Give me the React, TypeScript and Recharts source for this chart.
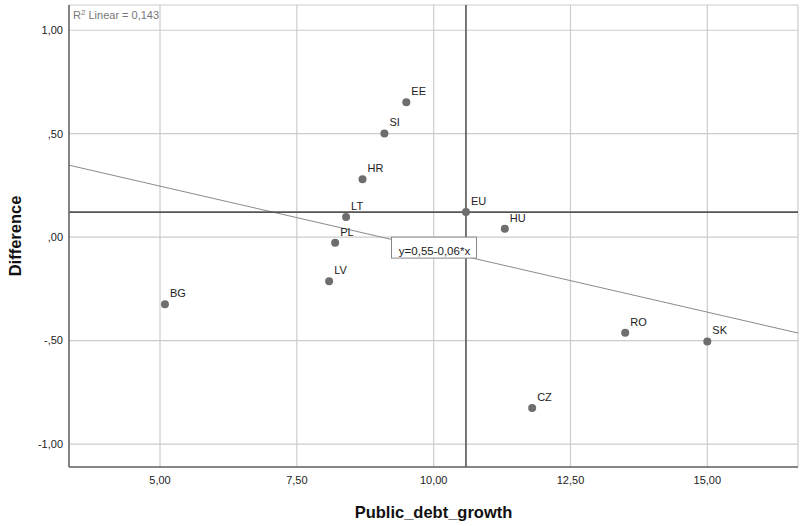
import React from "react";
import {
  ScatterChart,
  Scatter,
  XAxis,
  YAxis,
  CartesianGrid,
  ReferenceLine,
  ReferenceDot,
} from "recharts";

const countries = ["EE", "SI", "HR", "LT", "EU", "HU", "PL", "LV", "BG", "RO", "SK", "CZ"];
const debtGrowth = [9.5, 9.1, 8.7, 8.4, 10.59, 11.3, 8.2, 8.09, 5.09, 13.5, 15.0, 11.8];
const difference = [0.652, 0.501, 0.28, 0.097, 0.121, 0.04, -0.027, -0.213, -0.324, -0.462, -0.504, -0.826];

const xTicks = [5, 7.5, 10, 12.5, 15];
const yTicks = [-1, -0.5, 0, 0.5, 1];
const X_DOMAIN: [number, number] = [3.337, 16.657];
const Y_DOMAIN: [number, number] = [-1.111, 1.122];

// fit line y = a + b*x (label rounds it)
const FIT_A = 0.551;
const FIT_B = -0.0609;
const R2 = "0,143";

const data = countries.map((name, i) => ({ name, x: debtGrowth[i], y: difference[i] }));
const euIdx = countries.indexOf("EU");
const fit = (x: number) => FIT_A + FIT_B * x;
const fitMid = (X_DOMAIN[0] + X_DOMAIN[1]) / 2;

const FONT = "'Liberation Sans', Arial, sans-serif";

function fmt(v: number) {
  let s = v.toFixed(2).replace(".", ",");
  s = s.replace(/^(-?)0,/, "$1,");
  return s;
}

function PointShape(props: any) {
  const { cx, cy, payload } = props;
  return (
    <g>
      <circle cx={cx} cy={cy} r={4} fill="#6e6e6e" />
      <text x={cx + 5} y={cy - 7} fontSize={11} fill="#222" fontFamily={FONT}>
        {payload.name}
      </text>
    </g>
  );
}

function EquationBox(props: any) {
  const { cx, cy } = props;
  return (
    <g>
      <rect x={cx - 42} y={cy - 12} width={85} height={21} fill="#fff" stroke="#888" strokeWidth={1} />
      <text x={cx + 1} y={cy + 3} textAnchor="middle" dominantBaseline="middle" fontSize={11.5} fill="#222" fontFamily={FONT}>
        y=0,55-0,06*x
      </text>
    </g>
  );
}

function YTitle(props: any) {
  const vb = props.viewBox || {};
  const cx = 15;
  const cy = vb.y + vb.height / 2;
  return (
    <text
      x={cx}
      y={cy}
      transform={`rotate(-90 ${cx} ${cy})`}
      textAnchor="middle"
      dominantBaseline="central"
      fontSize={16.5}
      fontWeight="bold"
      fill="#111"
      fontFamily={FONT}
    >
      Difference
    </text>
  );
}

export default function App() {
  return (
    <div style={{ position: "fixed", left: 0, top: 0, width: 801, height: 526, background: "#fff", fontFamily: FONT }}>
      <ScatterChart width={801} height={526} margin={{ top: 5, right: 3, left: 0, bottom: 0 }}>
        <CartesianGrid stroke="#cccccc" strokeWidth={1.2} />
        <XAxis
          type="number"
          dataKey="x"
          domain={X_DOMAIN}
          ticks={xTicks}
          allowDataOverflow
          tickFormatter={fmt}
          height={59}
          tickSize={0}
          tickMargin={9}
          tick={{ fontSize: 11, fill: "#222", fontFamily: FONT }}
          axisLine={{ stroke: "#666", strokeWidth: 1.5 }}
          label={{
            value: "Public_debt_growth",
            position: "insideBottom",
            offset: 8,
            style: { fontSize: 16.5, fontWeight: "bold", fill: "#111", fontFamily: FONT },
          }}
        />
        <YAxis
          type="number"
          dataKey="y"
          domain={Y_DOMAIN}
          ticks={yTicks}
          allowDataOverflow
          tickFormatter={fmt}
          width={69}
          tickSize={0}
          tickMargin={6}
          tick={{ fontSize: 11, fill: "#222", fontFamily: FONT }}
          axisLine={{ stroke: "#666", strokeWidth: 1.5 }}
          label={<YTitle />}
        />
        <ReferenceLine
          segment={[
            { x: X_DOMAIN[0], y: fit(X_DOMAIN[0]) },
            { x: X_DOMAIN[1], y: fit(X_DOMAIN[1]) },
          ]}
          stroke="#8a8a8a"
          strokeWidth={1}
        />
        <ReferenceLine x={debtGrowth[euIdx]} stroke="#555" strokeWidth={1.6} />
        <ReferenceLine y={difference[euIdx]} stroke="#555" strokeWidth={1.6} />
        <ReferenceDot x={fitMid} y={fit(fitMid)} shape={EquationBox} />
        <Scatter data={data} shape={PointShape} isAnimationActive={false} />
      </ScatterChart>
      <div style={{ position: "absolute", left: 73, top: 7, fontSize: 11, color: "#777", lineHeight: "12px" }}>
        R<sup style={{ fontSize: 8, verticalAlign: "4px" }}>2</sup> Linear = {R2}
      </div>
    </div>
  );
}
